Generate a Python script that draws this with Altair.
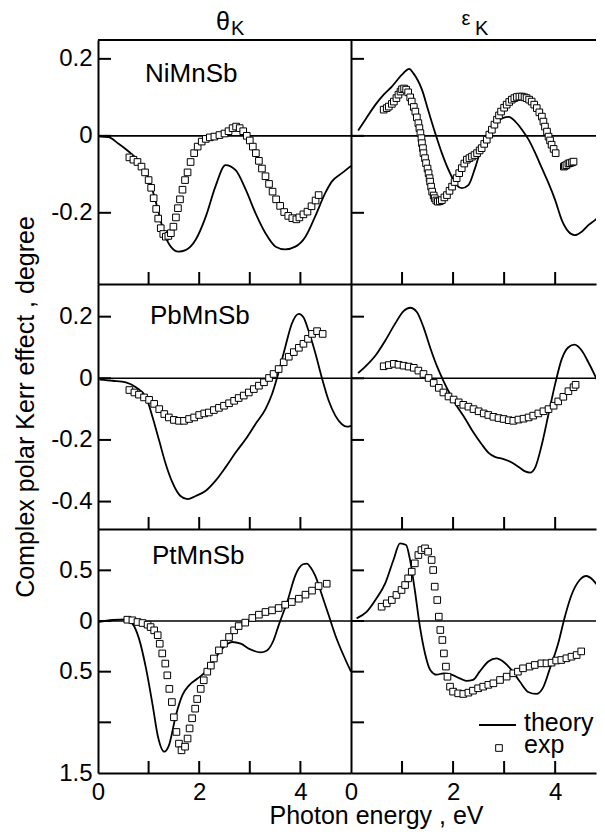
import altair as alt
import pandas as pd

FONT = "Liberation Sans"

# ---------------- text / tick data ----------------
compounds = ["NiMnSb", "PbMnSb", "PtMnSb"]
column_symbols = ["θ", "ε"]
column_subscript = "K"
legend_labels = ["theory", "exp"]
y_title = "Complex polar Kerr effect , degree"
x_title = "Photon energy , eV"

energy_ticks = [1, 2, 3, 4]
x_label_values = [0, 2, 4]
y_tick_values = [[0.2, 0, -0.2], [0.2, 0, -0.2, -0.4], [0.5, 0, -0.5, -1.0]]
y_label_values = [[0.2, 0, -0.2], [0.2, 0, -0.2, -0.4], [0.5, 0, -0.5, -1.0, -1.5]]
y_label_texts = [["0.2", "0", "-0.2"], ["0.2", "0", "-0.2", "-0.4"], ["0.5", "0", "0.5", "", "1.5"]]
y_domains = [[-0.385, 0.249], [-0.489, 0.306], [-1.5, 0.908]]
x_domains = [[0, 5], [0, 4.8]]

# ---------------- NiMnSb ----------------
ni_theta_th_e = [0.03, 0.2, 0.4, 0.6, 0.8, 1.0, 1.2, 1.3, 1.45, 1.59, 1.73, 1.93, 2.13, 2.32, 2.52, 2.72, 2.92, 3.11, 3.31, 3.51, 3.70, 3.90, 4.10, 4.29, 4.49, 4.62, 4.82, 5.0]
ni_theta_th_v = [-0.002, -0.003, -0.02, -0.04, -0.065, -0.11, -0.20, -0.25, -0.29, -0.301, -0.297, -0.27, -0.21, -0.132, -0.076, -0.089, -0.14, -0.20, -0.253, -0.288, -0.295, -0.288, -0.262, -0.21, -0.149, -0.119, -0.097, -0.078]
ni_theta_ex_e = [0.62, 0.70, 0.78, 0.86, 0.93, 1.00, 1.05, 1.10, 1.15, 1.19, 1.24, 1.29, 1.34, 1.39, 1.44, 1.49, 1.54, 1.58, 1.62, 1.67, 1.72, 1.77, 1.83, 1.90, 1.97, 2.05, 2.13, 2.21, 2.30, 2.40, 2.50, 2.58, 2.66, 2.73, 2.80, 2.87, 2.94, 3.00, 3.06, 3.12, 3.18, 3.24, 3.31, 3.38, 3.45, 3.52, 3.60, 3.68, 3.76, 3.84, 3.92, 3.98, 4.06, 4.14, 4.22, 4.30, 4.36]
ni_theta_ex_v = [-0.056, -0.062, -0.068, -0.08, -0.095, -0.115, -0.135, -0.162, -0.19, -0.215, -0.24, -0.255, -0.262, -0.26, -0.253, -0.236, -0.212, -0.188, -0.165, -0.14, -0.115, -0.095, -0.068, -0.045, -0.028, -0.015, -0.008, -0.004, -0.002, 0.002, 0.006, 0.012, 0.02, 0.024, 0.02, 0.012, 0.0, -0.012, -0.028, -0.045, -0.065, -0.085, -0.105, -0.125, -0.145, -0.165, -0.182, -0.198, -0.208, -0.214, -0.217, -0.212, -0.204, -0.197, -0.183, -0.168, -0.154]
ni_eps_th_e = [0.14, 0.28, 0.48, 0.64, 0.80, 1.00, 1.14, 1.22, 1.39, 1.52, 1.65, 1.78, 1.94, 2.07, 2.17, 2.30, 2.43, 2.56, 2.69, 2.82, 2.97, 3.09, 3.22, 3.35, 3.48, 3.61, 3.74, 3.87, 4.00, 4.13, 4.26, 4.38, 4.52, 4.65, 4.78, 4.88]
ni_eps_th_v = [0.014, 0.042, 0.081, 0.107, 0.128, 0.159, 0.174, 0.163, 0.12, 0.063, 0.007, -0.045, -0.097, -0.128, -0.136, -0.128, -0.084, -0.028, 0.011, 0.035, 0.046, 0.049, 0.037, 0.016, -0.010, -0.045, -0.084, -0.123, -0.167, -0.219, -0.249, -0.258, -0.249, -0.232, -0.219, -0.207]
ni_eps_ex_e = [0.64, 0.70, 0.74, 0.80, 0.84, 0.89, 0.93, 0.97, 1.00, 1.04, 1.08, 1.12, 1.16, 1.19, 1.23, 1.26, 1.29, 1.32, 1.34, 1.36, 1.38, 1.39, 1.41, 1.42, 1.45, 1.47, 1.50, 1.52, 1.54, 1.55, 1.57, 1.59, 1.62, 1.64, 1.67, 1.70, 1.74, 1.78, 1.83, 1.88, 1.93, 1.98, 2.03, 2.07, 2.12, 2.17, 2.22, 2.27, 2.32, 2.37, 2.42, 2.47, 2.52, 2.56, 2.61, 2.66, 2.71, 2.76, 2.81, 2.86, 2.90, 2.94, 3.00, 3.05, 3.10, 3.15, 3.20, 3.25, 3.30, 3.35, 3.40, 3.44, 3.49, 3.54, 3.59, 3.64, 3.69, 3.74, 3.77, 3.80, 3.84, 3.87, 3.90, 3.93, 3.97, 4.01, 4.17, 4.19, 4.22, 4.26, 4.29, 4.33, 4.36]
ni_eps_ex_v = [0.068, 0.072, 0.076, 0.083, 0.089, 0.098, 0.107, 0.115, 0.121, 0.123, 0.12, 0.113, 0.1, 0.089, 0.075, 0.063, 0.048, 0.033, 0.02, 0.007, -0.006, -0.019, -0.032, -0.045, -0.058, -0.071, -0.085, -0.097, -0.11, -0.119, -0.132, -0.145, -0.155, -0.162, -0.168, -0.171, -0.17, -0.167, -0.16, -0.154, -0.143, -0.132, -0.12, -0.110, -0.097, -0.084, -0.072, -0.062, -0.058, -0.054, -0.05, -0.045, -0.038, -0.032, -0.021, -0.010, 0.003, 0.016, 0.029, 0.042, 0.053, 0.063, 0.073, 0.081, 0.088, 0.094, 0.098, 0.101, 0.102, 0.102, 0.1, 0.098, 0.094, 0.089, 0.081, 0.072, 0.061, 0.050, 0.037, 0.024, 0.011, -0.002, -0.012, -0.023, -0.034, -0.045, -0.08, -0.078, -0.076, -0.072, -0.071, -0.069, -0.067]

# ---------------- PbMnSb ----------------
pb_theta_th_e = [0.03, 0.29, 0.55, 0.75, 0.95, 1.08, 1.21, 1.34, 1.47, 1.63, 1.77, 1.93, 2.13, 2.32, 2.52, 2.72, 2.92, 3.11, 3.31, 3.44, 3.57, 3.70, 3.83, 3.97, 4.06, 4.16, 4.30, 4.43, 4.56, 4.69, 4.82, 4.92, 5.0]
pb_theta_th_v = [-0.004, -0.008, -0.013, -0.029, -0.062, -0.127, -0.203, -0.279, -0.338, -0.382, -0.392, -0.382, -0.365, -0.333, -0.289, -0.241, -0.197, -0.149, -0.10, -0.051, 0.02, 0.101, 0.177, 0.209, 0.198, 0.155, 0.079, -0.002, -0.073, -0.121, -0.149, -0.157, -0.154]
pb_theta_ex_e = [0.62, 0.72, 0.81, 0.91, 1.01, 1.11, 1.21, 1.31, 1.40, 1.50, 1.60, 1.70, 1.80, 1.90, 2.00, 2.10, 2.19, 2.29, 2.39, 2.49, 2.59, 2.69, 2.78, 2.88, 2.98, 3.08, 3.18, 3.28, 3.38, 3.47, 3.57, 3.67, 3.77, 3.87, 3.97, 4.06, 4.15, 4.23, 4.33, 4.44]
pb_theta_ex_v = [-0.038, -0.046, -0.053, -0.062, -0.070, -0.083, -0.10, -0.116, -0.127, -0.135, -0.138, -0.138, -0.132, -0.127, -0.119, -0.114, -0.111, -0.103, -0.096, -0.089, -0.081, -0.073, -0.064, -0.056, -0.046, -0.035, -0.024, -0.013, 0.001, 0.014, 0.030, 0.052, 0.070, 0.085, 0.099, 0.112, 0.128, 0.144, 0.153, 0.144]
pb_eps_th_e = [0.14, 0.28, 0.48, 0.67, 0.87, 1.03, 1.16, 1.29, 1.42, 1.55, 1.68, 1.81, 1.94, 2.07, 2.24, 2.40, 2.56, 2.69, 2.82, 2.99, 3.15, 3.28, 3.41, 3.51, 3.61, 3.74, 3.87, 4.00, 4.13, 4.26, 4.38, 4.52, 4.65, 4.78, 4.91, 4.96]
pb_eps_th_v = [0.017, 0.038, 0.074, 0.122, 0.179, 0.218, 0.229, 0.215, 0.166, 0.10, 0.041, -0.008, -0.051, -0.089, -0.132, -0.176, -0.214, -0.241, -0.255, -0.262, -0.273, -0.287, -0.302, -0.306, -0.289, -0.214, -0.116, -0.018, 0.063, 0.101, 0.109, 0.090, 0.052, 0.009, -0.040, -0.056]
pb_eps_ex_e = [0.64, 0.74, 0.84, 0.93, 1.03, 1.13, 1.23, 1.32, 1.42, 1.52, 1.62, 1.72, 1.81, 1.91, 2.01, 2.11, 2.20, 2.30, 2.40, 2.50, 2.60, 2.69, 2.79, 2.89, 2.99, 3.09, 3.18, 3.28, 3.38, 3.48, 3.57, 3.67, 3.77, 3.87, 3.97, 4.06, 4.16, 4.26, 4.36, 4.40]
pb_eps_ex_v = [0.039, 0.043, 0.047, 0.044, 0.041, 0.038, 0.034, 0.025, 0.014, 0.001, -0.015, -0.031, -0.046, -0.059, -0.069, -0.078, -0.086, -0.092, -0.10, -0.107, -0.114, -0.119, -0.125, -0.129, -0.132, -0.136, -0.138, -0.134, -0.131, -0.127, -0.121, -0.114, -0.107, -0.10, -0.089, -0.075, -0.060, -0.042, -0.029, -0.021]

# ---------------- PtMnSb ----------------
pt_theta_th_e = [0.0, 0.29, 0.55, 0.68, 0.81, 0.95, 1.08, 1.18, 1.31, 1.40, 1.54, 1.67, 1.80, 1.96, 2.13, 2.29, 2.46, 2.65, 2.82, 3.01, 3.21, 3.34, 3.47, 3.57, 3.74, 3.90, 3.97, 4.05, 4.13, 4.20, 4.29, 4.43, 4.56, 4.69, 4.88, 5.0]
pt_theta_th_v = [-0.01, 0.01, 0.016, -0.026, -0.174, -0.47, -0.83, -1.13, -1.29, -1.23, -0.93, -0.73, -0.635, -0.57, -0.50, -0.39, -0.27, -0.207, -0.224, -0.28, -0.31, -0.29, -0.19, -0.043, 0.19, 0.45, 0.52, 0.56, 0.566, 0.53, 0.45, 0.25, 0.056, -0.14, -0.37, -0.50]
pt_theta_ex_e = [0.58, 0.68, 0.78, 0.88, 0.98, 1.04, 1.11, 1.18, 1.22, 1.27, 1.33, 1.37, 1.41, 1.46, 1.50, 1.55, 1.60, 1.65, 1.72, 1.77, 1.81, 1.86, 1.92, 1.96, 2.03, 2.09, 2.16, 2.23, 2.29, 2.39, 2.49, 2.59, 2.69, 2.78, 2.91, 3.05, 3.18, 3.31, 3.44, 3.57, 3.70, 3.83, 3.97, 4.10, 4.23, 4.36, 4.52]
pt_theta_ex_v = [0.013, 0.007, -0.01, -0.02, -0.036, -0.06, -0.092, -0.14, -0.224, -0.32, -0.42, -0.536, -0.67, -0.80, -0.95, -1.095, -1.21, -1.276, -1.24, -1.16, -1.06, -0.96, -0.865, -0.77, -0.67, -0.585, -0.50, -0.44, -0.37, -0.29, -0.224, -0.158, -0.092, -0.05, -0.016, 0.03, 0.0625, 0.089, 0.105, 0.128, 0.161, 0.1875, 0.22, 0.26, 0.30, 0.345, 0.368]
pt_eps_th_e = [0.11, 0.31, 0.50, 0.67, 0.83, 0.96, 1.08, 1.15, 1.25, 1.35, 1.45, 1.55, 1.68, 1.81, 1.97, 2.13, 2.26, 2.39, 2.52, 2.69, 2.85, 2.98, 3.14, 3.31, 3.47, 3.63, 3.76, 3.89, 4.06, 4.19, 4.32, 4.48, 4.61, 4.74, 4.87, 4.97]
pt_eps_th_v = [0.026, 0.092, 0.224, 0.372, 0.60, 0.766, 0.75, 0.62, 0.306, -0.056, -0.32, -0.48, -0.53, -0.516, -0.53, -0.566, -0.59, -0.58, -0.50, -0.40, -0.368, -0.40, -0.48, -0.60, -0.70, -0.72, -0.66, -0.48, -0.22, 0.043, 0.257, 0.405, 0.444, 0.405, 0.322, 0.257]
pt_eps_ex_e = [0.60, 0.70, 0.80, 0.89, 0.99, 1.06, 1.12, 1.19, 1.25, 1.32, 1.38, 1.45, 1.51, 1.58, 1.61, 1.64, 1.69, 1.72, 1.75, 1.79, 1.82, 1.86, 1.89, 1.94, 2.00, 2.10, 2.20, 2.30, 2.39, 2.49, 2.59, 2.69, 2.79, 2.92, 3.05, 3.18, 3.27, 3.37, 3.50, 3.60, 3.73, 3.83, 3.93, 4.02, 4.12, 4.22, 4.32, 4.42, 4.51]
pt_eps_ex_v = [0.141, 0.174, 0.207, 0.257, 0.306, 0.355, 0.421, 0.487, 0.569, 0.651, 0.70, 0.717, 0.684, 0.602, 0.503, 0.339, 0.207, 0.043, -0.089, -0.1875, -0.32, -0.45, -0.55, -0.648, -0.697, -0.714, -0.72, -0.707, -0.6875, -0.664, -0.648, -0.63, -0.615, -0.582, -0.549, -0.516, -0.50, -0.467, -0.45, -0.434, -0.418, -0.418, -0.411, -0.39, -0.385, -0.368, -0.352, -0.336, -0.30]

series = [
    [(ni_theta_th_e, ni_theta_th_v, ni_theta_ex_e, ni_theta_ex_v),
     (ni_eps_th_e, ni_eps_th_v, ni_eps_ex_e, ni_eps_ex_v)],
    [(pb_theta_th_e, pb_theta_th_v, pb_theta_ex_e, pb_theta_ex_v),
     (pb_eps_th_e, pb_eps_th_v, pb_eps_ex_e, pb_eps_ex_v)],
    [(pt_theta_th_e, pt_theta_th_v, pt_theta_ex_e, pt_theta_ex_v),
     (pt_eps_th_e, pt_eps_th_v, pt_eps_ex_e, pt_eps_ex_v)],
]

# ---------------- layout / style ----------------
PANEL_W = [253, 245]
PANEL_H = [244, 245, 244]
TICK_LEN = 13
LABEL_SIZE = 24
BIG_SIZE = 25
SQ_SIZE = 44


def label_expr(values, texts):
    parts = [f"abs(datum.value - ({v})) < 1e-6 ? '{t}'" for v, t in zip(values, texts)]
    return " : ".join(parts) + " : ''"


def text_layer(text, x, y, size, align="left", baseline="alphabetic"):
    return alt.Chart(pd.DataFrame({"t": [text]})).mark_text(
        font=FONT, fontSize=size, align=align, baseline=baseline, color="black"
    ).encode(x=alt.value(x), y=alt.value(y), text="t:N")


def make_panel(r, c):
    th_e, th_v, ex_e, ex_v = series[r][c]
    w, h = PANEL_W[c], PANEL_H[r]
    xs = alt.Scale(domain=x_domains[c], nice=False, zero=False)
    ys = alt.Scale(domain=y_domains[r], nice=False, zero=False)

    xaxis_kw = dict(values=x_label_values, ticks=False, tickSize=0, grid=False,
                    domain=True, domainColor="black", domainWidth=2,
                    labels=(r == 2), labelFont=FONT, labelFontSize=LABEL_SIZE,
                    labelColor="black", labelPadding=7, labelFlush=False)
    if r == 2 and c == 0:
        xaxis_kw.update(titleFont=FONT, titleFontSize=BIG_SIZE, titleFontWeight="normal",
                        titleColor="black", titleX=278, titleY=50,
                        titleAlign="center", titleBaseline="alphabetic")
        X = alt.X("E:Q", scale=xs, axis=alt.Axis(**xaxis_kw), title=x_title)
    else:
        X = alt.X("E:Q", scale=xs, axis=alt.Axis(**xaxis_kw), title=None)

    yaxis_kw = dict(values=y_label_values[r], ticks=False, tickSize=0, grid=False,
                    domain=True, domainColor="black", domainWidth=2,
                    labels=(c == 0), labelFont=FONT, labelFontSize=LABEL_SIZE,
                    labelColor="black", labelPadding=6, labelFlush=False,
                    labelExpr=label_expr(y_label_values[r], y_label_texts[r]))
    if r == 1 and c == 0:
        yaxis_kw.update(titleFont=FONT, titleFontSize=BIG_SIZE, titleFontWeight="normal",
                        titleColor="black", titleX=-73, titleY=h / 2, titleAngle=270,
                        titleAlign="center", titleBaseline="middle")
        Y = alt.Y("v:Q", scale=ys, axis=alt.Axis(**yaxis_kw), title=y_title)
    else:
        Y = alt.Y("v:Q", scale=ys, axis=alt.Axis(**yaxis_kw), title=None)

    layers = []
    if r == 0:
        layers.append(alt.Chart(pd.DataFrame({"v": [0]})).mark_rule(
            color="black", strokeWidth=2).encode(y=alt.value(0)))
    layers.append(alt.Chart(pd.DataFrame({"v": [0]})).mark_rule(
        color="black", strokeWidth=1.6).encode(y=Y))
    layers.append(alt.Chart(pd.DataFrame({"E": th_e, "v": th_v})).mark_line(
        color="black", strokeWidth=1.8, interpolate="monotone", clip=True).encode(x=X, y=Y))
    layers.append(alt.Chart(pd.DataFrame({"E": ex_e, "v": ex_v})).mark_square(
        size=SQ_SIZE, fill="white", fillOpacity=1, stroke="black", strokeWidth=1, opacity=1,
        clip=True).encode(x=X, y=Y))
    layers.append(alt.Chart(pd.DataFrame({"v": y_tick_values[r]})).mark_rule(
        color="black", strokeWidth=2).encode(y=Y, x=alt.value(0), x2=alt.value(TICK_LEN)))
    layers.append(alt.Chart(pd.DataFrame({"E": energy_ticks})).mark_rule(
        color="black", strokeWidth=2).encode(x=X, y=alt.value(h - 12), y2=alt.value(h)))

    if c == 0:
        lx = [47, 52, 54][r]
        ly = [42, 40, 35][r]
        layers.append(text_layer(compounds[r], lx, ly, 26))
    if r == 0:
        if c == 0:
            layers.append(text_layer(column_symbols[0], 125, -10, BIG_SIZE, align="center"))
            layers.append(text_layer(column_subscript, 133, -5, 20))
        else:
            layers.append(text_layer(column_symbols[1], 115, -15, 20, align="center"))
            layers.append(text_layer(column_subscript, 124, -5, 20))
    if r == 2 and c == 1:
        layers.append(alt.Chart(pd.DataFrame({"v": [0]})).mark_rule(
            color="black", strokeWidth=2).encode(
            x=alt.value(128), x2=alt.value(165), y=alt.value(196)))
        layers.append(alt.Chart(pd.DataFrame({"v": [0]})).mark_square(
            size=SQ_SIZE, fill="white", fillOpacity=1, stroke="black", strokeWidth=1).encode(
            x=alt.value(148), y=alt.value(219)))
        layers.append(text_layer(legend_labels[0], 173, 202, 25))
        layers.append(text_layer(legend_labels[1], 173, 224, 25))

    return alt.layer(*layers).properties(width=w, height=h)


panels = [make_panel(r, c) for r in range(3) for c in range(2)]

chart = alt.concat(*panels, columns=2, spacing=0, bounds="flush").properties(
    padding={"left": 4, "top": 1, "right": 0, "bottom": 11},
    background="white",
).configure_view(strokeWidth=0)

chart.save("out.html", embed_options={"renderer": "svg", "actions": False})
